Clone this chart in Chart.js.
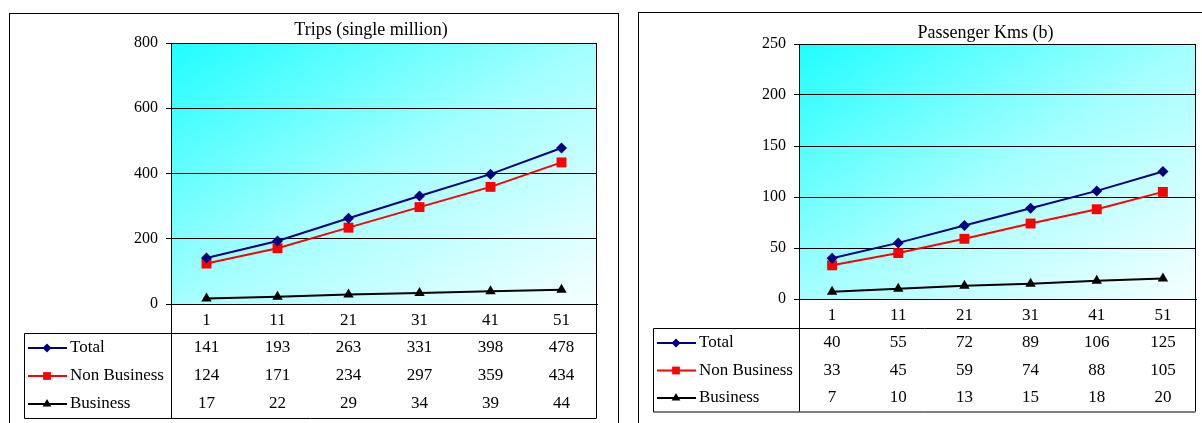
<!DOCTYPE html>
<html>
<head>
<meta charset="utf-8">
<title>Trips and Passenger Kms</title>
<script src="https://cdn.jsdelivr.net/npm/chart.js@4.4.1/dist/chart.umd.min.js"></script>
<style>
    body { margin: 0; background: #fff; overflow: hidden; width: 1202px; height: 423px; position: relative; }
    .panel { position: absolute; border: 1px solid #000; background: #fff; }
    #tripsPanel { left: 9px; top: 13px; width: 608px; height: 420px; }
    #pkmPanel { left: 638px; top: 12px; width: 608px; height: 420px; }
    canvas { display: block; }
</style>
</head>
<body>
<div class="panel" id="tripsPanel"><canvas id="tripsChart" width="608" height="410"></canvas></div>
<div class="panel" id="pkmPanel"><canvas id="pkmChart" width="608" height="411"></canvas></div>

<script>
// years on the x axis
const years = ['1', '11', '21', '31', '41', '51'];
const seriesNames = ['Total', 'Non Business', 'Business'];

// trips, single million
const tripsTotal = [141, 193, 263, 331, 398, 478];
const tripsNonBusiness = [124, 171, 234, 297, 359, 434];
const tripsBusiness = [17, 22, 29, 34, 39, 44];
const tripsAxis = { max: 800, step: 200 };

// passenger kms, billions
const pkmTotal = [40, 55, 72, 89, 106, 125];
const pkmNonBusiness = [33, 45, 59, 74, 88, 105];
const pkmBusiness = [7, 10, 13, 15, 18, 20];
const pkmAxis = { max: 250, step: 50 };

const FONT = '"Liberation Serif", "Times New Roman", serif';

const seriesStyle = [
    { color: '#000080', pointStyle: 'rectRot', radius: 5.5, legendRadius: 4.5 },
    { color: '#ff0000', pointStyle: 'rect', radius: 7, legendRadius: 5.5 },
    { color: '#000000', pointStyle: 'triangle', radius: 6, legendRadius: 5 }
];

function drawMarker(ctx, style, r, x, y) {
    ctx.beginPath();
    if (style === 'rectRot') {
        ctx.moveTo(x - r, y);
        ctx.lineTo(x, y - r);
        ctx.lineTo(x + r, y);
        ctx.lineTo(x, y + r);
    } else if (style === 'rect') {
        const s = r * Math.SQRT1_2;
        ctx.rect(x - s, y - s, 2 * s, 2 * s);
    } else {
        const h = r * 1.5;
        const w = r * Math.sqrt(3) / 2;
        ctx.moveTo(x, y - r);
        ctx.lineTo(x + w, y - r + h);
        ctx.lineTo(x - w, y - r + h);
    }
    ctx.closePath();
    ctx.fill();
}

// cyan to white, running from the top-left corner of the plot
const plotGradient = {
    id: 'plotGradient',
    beforeDraw(chart) {
        const { ctx, chartArea: a } = chart;
        const w = a.right - a.left, h = a.bottom - a.top;
        const s = 2 * w * h / (w * w + h * h);
        const g = ctx.createLinearGradient(a.left, a.top, a.left + s * h, a.top + s * w);
        g.addColorStop(0, '#1ffdff');
        g.addColorStop(0.5, '#a4ffff');
        g.addColorStop(1, '#f6ffff');
        ctx.save();
        ctx.fillStyle = g;
        ctx.fillRect(a.left, a.top, w, h);
        ctx.restore();
    }
};

// chart heading, set a little left of the plot centre
const heading = {
    id: 'heading',
    afterDraw(chart, args, opts) {
        const { ctx, chartArea: a } = chart;
        ctx.save();
        ctx.font = '18px ' + FONT;
        ctx.fillStyle = '#000';
        ctx.textAlign = 'center';
        ctx.textBaseline = 'middle';
        ctx.fillText(opts.text, (a.left + a.right) / 2 + opts.dx, opts.y);
        ctx.restore();
    }
};

// data table under the x axis, with legend keys
const dataTable = {
    id: 'dataTable',
    afterDraw(chart, args, opts) {
        const { ctx, chartArea: a } = chart;
        const xScale = chart.scales.x;
        const tLeft = opts.left;
        const tTop = a.bottom + 29;
        const rowH = opts.rowHeight;
        const tBottom = tTop + rowH * 3 + 1;
        const L = Math.round(a.left) + 0.5, R = Math.round(a.right) - 0.5;

        ctx.save();
        ctx.strokeStyle = '#000';
        ctx.lineWidth = 1;
        ctx.beginPath();
        ctx.moveTo(L, a.top); ctx.lineTo(L, tBottom);
        ctx.moveTo(R, a.top); ctx.lineTo(R, tBottom);
        ctx.moveTo(tLeft + 0.5, tTop + 0.5); ctx.lineTo(R, tTop + 0.5);
        ctx.moveTo(tLeft + 0.5, tBottom + 0.5); ctx.lineTo(R, tBottom + 0.5);
        ctx.moveTo(tLeft + 0.5, tTop + 0.5); ctx.lineTo(tLeft + 0.5, tBottom + 0.5);
        ctx.stroke();

        ctx.font = '17px ' + FONT;
        ctx.textBaseline = 'middle';
        chart.data.datasets.forEach((ds, i) => {
            const y = tTop + 15 + i * rowH;
            const st = seriesStyle[i];
            ctx.strokeStyle = st.color;
            ctx.fillStyle = st.color;
            ctx.lineWidth = 2;
            ctx.beginPath();
            ctx.moveTo(tLeft + 4, y);
            ctx.lineTo(tLeft + 43, y);
            ctx.stroke();
            drawMarker(ctx, st.pointStyle, st.legendRadius, tLeft + 23, y);

            ctx.fillStyle = '#000';
            ctx.textAlign = 'left';
            ctx.fillText(ds.label, tLeft + 46, y);
            ctx.textAlign = 'center';
            ds.data.forEach((v, j) => {
                ctx.fillText(String(v), xScale.getPixelForValue(j), y);
            });
        });
        ctx.restore();
    }
};

function buildChart(canvasId, titleText, series, axis, layout) {
    return new Chart(document.getElementById(canvasId), {
        type: 'line',
        data: {
            labels: years,
            datasets: series.map((values, i) => ({
                label: seriesNames[i],
                data: values,
                borderColor: seriesStyle[i].color,
                backgroundColor: seriesStyle[i].color,
                borderWidth: 2,
                pointStyle: seriesStyle[i].pointStyle,
                pointRadius: seriesStyle[i].radius,
                pointBorderWidth: 0,
                pointBackgroundColor: seriesStyle[i].color,
                tension: 0,
                clip: false
            }))
        },
        options: {
            responsive: false,
            animation: false,
            events: [],
            layout: { padding: { left: layout.padLeft, right: layout.padRight, top: layout.padTop, bottom: 0 } },
            plugins: {
                legend: { display: false },
                tooltip: { enabled: false },
                title: { display: false },
                heading: { text: titleText, dx: layout.titleDx, y: layout.titleY },
                dataTable: { left: 14, rowHeight: layout.rowHeight }
            },
            scales: {
                x: {
                    type: 'category',
                    offset: true,
                    grid: { display: false, drawTicks: false },
                    border: { display: true, color: '#000', width: 1 },
                    ticks: { color: '#000', font: { family: FONT, size: 17 }, padding: 6, maxRotation: 0 },
                    afterFit(scale) { scale.height = layout.xHeight; }
                },
                y: {
                    min: 0,
                    max: axis.max,
                    grid: { color: '#000', lineWidth: 1, tickLength: 5, tickColor: '#000' },
                    border: { display: true, color: '#000', width: 1 },
                    ticks: { stepSize: axis.step, color: '#000', font: { family: FONT, size: 16 }, padding: 8 },
                    afterFit(scale) { scale.width = 44; }
                }
            }
        },
        plugins: [plotGradient, heading, dataTable]
    });
}

buildChart('tripsChart', 'Trips (single million)',
    [tripsTotal, tripsNonBusiness, tripsBusiness], tripsAxis,
    { padLeft: 117, padRight: 21, padTop: 29, titleDx: -13, titleY: 16, xHeight: 120, rowHeight: 28 });

buildChart('pkmChart', 'Passenger Kms (b)',
    [pkmTotal, pkmNonBusiness, pkmBusiness], pkmAxis,
    { padLeft: 116, padRight: 51, padTop: 31, titleDx: -12, titleY: 20, xHeight: 125, rowHeight: 27.5 });
</script>
</body>
</html>
